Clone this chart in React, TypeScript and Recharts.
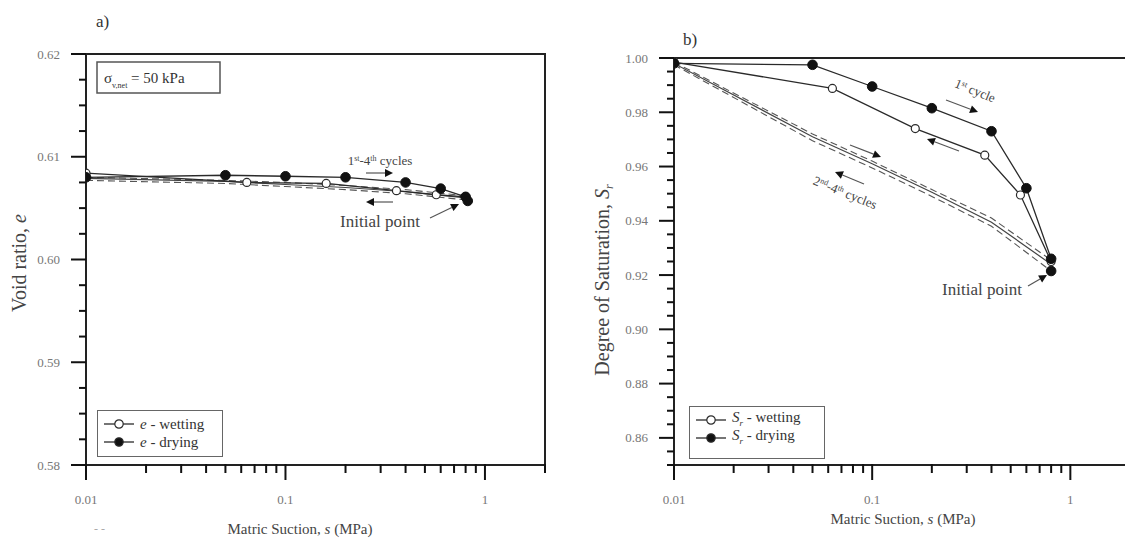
import React from "react";
import { LineChart, Line, XAxis, YAxis, ReferenceArea, Legend } from "recharts";

const FONT = "'Liberation Serif', 'Times New Roman', serif";
const INK = "#2a2a2a";
const TICK_INK = "#777";

// matric suction axis (log), shared by both panels
const sTickLabels = ["0.01", "0.1", "1"];
const sTicks = [
  0.01, 0.02, 0.03, 0.04, 0.05, 0.06, 0.07, 0.08, 0.09,
  0.1, 0.2, 0.3, 0.4, 0.5, 0.6, 0.7, 0.8, 0.9, 1, 2,
];

// panel a: void ratio
const eTickLabels = ["0.58", "0.59", "0.60", "0.61", "0.62"];
const eTicks = Array.from({ length: 17 }, (_, i) => +(0.58 + i * 0.0025).toFixed(4));

const eWetS = [0.8, 0.57, 0.36, 0.16, 0.064, 0.01];
const eWet = [0.6061, 0.6063, 0.6067, 0.6074, 0.6075, 0.6084];
const eDryS = [0.01, 0.05, 0.1, 0.2, 0.4, 0.6, 0.8];
const eDry = [0.608, 0.6082, 0.6081, 0.608, 0.6075, 0.6069, 0.6061];
const eInitS = [0.82];
const eInit = [0.6057];
const eCycS = [0.01, 0.05, 0.1, 0.2, 0.4, 0.8];
const eCyc2 = [0.6079, 0.6076, 0.6073, 0.607, 0.6066, 0.606];
const eCyc3 = [0.6077, 0.6074, 0.6071, 0.6068, 0.6064, 0.6058];
const eCyc4 = [0.608, 0.6077, 0.6075, 0.6072, 0.6068, 0.6062];

// panel b: degree of saturation
const srTickLabels = ["0.86", "0.88", "0.90", "0.92", "0.94", "0.96", "0.98", "1.00"];
const srTicks = Array.from({ length: 31 }, (_, i) => +(0.85 + i * 0.005).toFixed(4));

const srWetS = [0.8, 0.56, 0.37, 0.165, 0.063, 0.01];
const srWet = [0.925, 0.9495, 0.9642, 0.974, 0.9888, 0.9985];
const srDryS = [0.01, 0.05, 0.1, 0.2, 0.4, 0.6, 0.8];
const srDry = [0.998, 0.9975, 0.9895, 0.9815, 0.973, 0.952, 0.926];
const srInitS = [0.8];
const srInit = [0.9215];
const srCycS = [0.01, 0.05, 0.1, 0.2, 0.4, 0.8];
const srCyc2 = [0.998, 0.971, 0.961, 0.9505, 0.9395, 0.924];
const srCyc3 = [0.9975, 0.9695, 0.9595, 0.949, 0.938, 0.9215];
const srCyc4 = [0.9985, 0.972, 0.962, 0.9515, 0.941, 0.9255];

const zip = (xs: number[], ys: number[], key: string) =>
  xs.map((s, i) => ({ s, [key]: ys[i] }));

function findLabel(labels: string[], v: number) {
  return labels.find((l) => Math.abs(parseFloat(l) - v) < 1e-6);
}

const makeYTick = (labels: string[]) => (props: any) => {
  const x = Number(props.x);
  const y = Number(props.y);
  const lab = findLabel(labels, props.payload.value);
  const len = lab ? 15 : 7;
  return (
    <g>
      <path d={`M${x - len},${y}H${x}`} stroke="#111" strokeWidth={2} fill="none" />
      {lab && (
        <text x={x - 26} y={y} dy={4.5} textAnchor="end" fontSize={13} fill={TICK_INK} fontFamily={FONT}>
          {lab}
        </text>
      )}
    </g>
  );
};

const XTick = (props: any) => {
  const x = Number(props.x);
  const y = Number(props.y);
  const lab = findLabel(sTickLabels, props.payload.value);
  const len = lab ? 15 : 8;
  return (
    <g>
      <path d={`M${x},${y - 1}V${y + len}`} stroke="#111" strokeWidth={2} fill="none" />
      {lab && (
        <text x={x} y={y + 39} textAnchor="middle" fontSize={13} fill={TICK_INK} fontFamily={FONT}>
          {lab}
        </text>
      )}
    </g>
  );
};

const wetDot = { r: 4, fill: "#fff", stroke: INK, strokeWidth: 1.2 };
const dryDot = { r: 4.8, fill: "#111", stroke: "#111", strokeWidth: 1 };

function LegendBox({ sym, w, h }: { sym: React.ReactNode; w: number; h: number }) {
  const row = (filled: boolean, word: string) => (
    <div style={{ display: "flex", alignItems: "center", height: 18 }}>
      <svg width={30} height={12} style={{ marginRight: 6 }}>
        <line x1={0} x2={30} y1={6} y2={6} stroke={INK} strokeWidth={1.3} />
        <circle cx={15} cy={6} r={4.2} fill={filled ? "#111" : "#fff"} stroke={INK} strokeWidth={1.2} />
      </svg>
      <span>
        {sym} - {word}
      </span>
    </div>
  );
  return (
    <div
      style={{
        width: w,
        height: h,
        boxSizing: "border-box",
        border: "1.5px solid #666",
        background: "#fff",
        padding: "4px 6px",
        fontFamily: FONT,
        fontSize: 15,
        color: "#333",
        lineHeight: "18px",
      }}
    >
      {row(false, "wetting")}
      {row(true, "drying")}
    </div>
  );
}

function Arrow({ x1, y1, x2, y2 }: { x1: number; y1: number; x2: number; y2: number }) {
  const a = Math.atan2(y2 - y1, x2 - x1);
  const L = 8;
  const W = 4;
  const bx = x2 - L * Math.cos(a);
  const by = y2 - L * Math.sin(a);
  const px = -Math.sin(a) * W;
  const py = Math.cos(a) * W;
  return (
    <g>
      <line x1={x1} y1={y1} x2={bx} y2={by} stroke="#555" strokeWidth={1.2} />
      <polygon points={`${x2},${y2} ${bx + px},${by + py} ${bx - px},${by - py}`} fill="#111" />
    </g>
  );
}

const sup = (t: string) => (
  <tspan baselineShift="super" fontSize={8}>
    {t}
  </tspan>
);

const axisLineStyle = { stroke: "#222", strokeWidth: 2 };

export default function App() {
  return (
    <div
      style={{
        position: "absolute",
        left: 0,
        top: 0,
        width: 1125,
        height: 542,
        overflow: "hidden",
        background: "#fff",
      }}
    >
      {/* panel a */}
      <div style={{ position: "absolute", left: 0, top: 0 }}>
        <LineChart width={560} height={542} margin={{ top: 54, right: 15, bottom: 27, left: 26 }}>
          <XAxis
            dataKey="s"
            type="number"
            scale="log"
            domain={[0.01, 2]}
            allowDataOverflow
            ticks={sTicks}
            interval={0}
            tickLine={false}
            tickSize={0}
            tickMargin={0}
            tick={XTick}
            height={50}
            axisLine={axisLineStyle}
            label={() => (
              <text x={300} y={534} textAnchor="middle" fontSize={15} fill="#444" fontFamily={FONT}>
                Matric Suction, <tspan fontStyle="italic">s</tspan> (MPa)
              </text>
            )}
          />
          <YAxis
            type="number"
            domain={[0.58, 0.62]}
            ticks={eTicks}
            interval={0}
            tickLine={false}
            tickSize={0}
            tickMargin={0}
            tick={makeYTick(eTickLabels)}
            width={60}
            axisLine={axisLineStyle}
            label={() => (
              <text
                x={19}
                y={263}
                transform="rotate(-90 19 263)"
                textAnchor="middle"
                dominantBaseline="central"
                fontSize={20}
                fill="#444"
                fontFamily={FONT}
              >
                Void ratio, <tspan fontStyle="italic">e</tspan>
              </text>
            )}
          />
          <ReferenceArea x1={0.01} x2={2} y1={0.58} y2={0.62} fill="none" stroke="#222" strokeWidth={2} />
          <Line data={zip(eCycS, eCyc3, "v")} dataKey="v" stroke="#555" strokeWidth={1.1} strokeDasharray="7 4" dot={false} isAnimationActive={false} />
          <Line data={zip(eCycS, eCyc4, "v")} dataKey="v" stroke="#555" strokeWidth={1.1} strokeDasharray="7 4" dot={false} isAnimationActive={false} />
          <Line data={zip(eCycS, eCyc2, "v")} dataKey="v" stroke="#444" strokeWidth={1.1} dot={false} isAnimationActive={false} />
          <Line data={zip(eWetS, eWet, "v")} dataKey="v" stroke={INK} strokeWidth={1.3} dot={wetDot} isAnimationActive={false} />
          <Line data={zip(eDryS, eDry, "v")} dataKey="v" stroke={INK} strokeWidth={1.3} dot={dryDot} isAnimationActive={false} />
          <Line data={zip(eInitS, eInit, "v")} dataKey="v" stroke="none" dot={dryDot} isAnimationActive={false} />
          <Legend
            layout="vertical"
            align="center"
            verticalAlign="middle"
            wrapperStyle={{ left: 97, top: 410, width: "auto" }}
            content={() => <LegendBox sym={<i>e</i>} w={126} h={47} />}
          />
        </LineChart>
      </div>

      {/* panel b */}
      <div style={{ position: "absolute", left: 560, top: 0 }}>
        <LineChart width={570} height={542} margin={{ top: 58, right: 0, bottom: 27, left: 14 }}>
          <XAxis
            dataKey="s"
            type="number"
            scale="log"
            domain={[0.01, 2]}
            allowDataOverflow
            ticks={sTicks}
            interval={0}
            tickLine={false}
            tickSize={0}
            tickMargin={0}
            tick={XTick}
            height={50}
            axisLine={axisLineStyle}
            label={() => (
              <text x={343} y={524} textAnchor="middle" fontSize={15} fill="#444" fontFamily={FONT}>
                Matric Suction, <tspan fontStyle="italic">s</tspan> (MPa)
              </text>
            )}
          />
          <YAxis
            type="number"
            domain={[0.85, 1.0]}
            ticks={srTicks}
            interval={0}
            tickLine={false}
            tickSize={0}
            tickMargin={0}
            tick={makeYTick(srTickLabels)}
            width={100}
            axisLine={axisLineStyle}
            label={() => (
              <text
                x={42}
                y={280}
                transform="rotate(-90 42 280)"
                textAnchor="middle"
                dominantBaseline="central"
                fontSize={20}
                fill="#444"
                fontFamily={FONT}
              >
                Degree of Saturation, <tspan fontStyle="italic">S</tspan>
                <tspan fontStyle="italic" baselineShift="sub" fontSize={12}>r</tspan>
              </text>
            )}
          />
          <ReferenceArea x1={0.01} x2={2} y1={0.85} y2={1.0} fill="none" stroke="#222" strokeWidth={2} />
          <Line data={zip(srCycS, srCyc3, "v")} dataKey="v" stroke="#555" strokeWidth={1.1} strokeDasharray="7 4" dot={false} isAnimationActive={false} />
          <Line data={zip(srCycS, srCyc4, "v")} dataKey="v" stroke="#555" strokeWidth={1.1} strokeDasharray="7 4" dot={false} isAnimationActive={false} />
          <Line data={zip(srCycS, srCyc2, "v")} dataKey="v" stroke="#444" strokeWidth={1.2} dot={false} isAnimationActive={false} />
          <Line data={zip(srWetS, srWet, "v")} dataKey="v" stroke={INK} strokeWidth={1.3} dot={wetDot} isAnimationActive={false} />
          <Line data={zip(srDryS, srDry, "v")} dataKey="v" stroke={INK} strokeWidth={1.3} dot={dryDot} isAnimationActive={false} />
          <Line data={zip(srInitS, srInit, "v")} dataKey="v" stroke="none" dot={dryDot} isAnimationActive={false} />
          <Legend
            layout="vertical"
            align="center"
            verticalAlign="middle"
            wrapperStyle={{ left: 129, top: 406, width: "auto" }}
            content={() => (
              <LegendBox
                sym={
                  <span>
                    <i>S</i>
                    <sub style={{ fontSize: 9, fontStyle: "italic" }}>r</sub>
                  </span>
                }
                w={136}
                h={53}
              />
            )}
          />
        </LineChart>
      </div>

      {/* annotations */}
      <svg
        width={1125}
        height={542}
        style={{ position: "absolute", left: 0, top: 0, pointerEvents: "none" }}
        fontFamily={FONT}
      >
        <text x={96} y={27} fontSize={17} fill="#333">a)</text>
        <text x={683} y={45} fontSize={17} fill="#333">b)</text>

        <rect x={97} y={62} width={123} height={31} fill="#fff" stroke="#555" strokeWidth={1.5} />
        <text x={104} y={83} fontSize={15} fill="#333">
          σ<tspan baselineShift="sub" fontSize={8}>v,net</tspan>
          <tspan> = 50 kPa</tspan>
        </text>

        <text x={380} y={165} textAnchor="middle" fontSize={13} fill="#444">
          1{sup("st")}-4{sup("th")} cycles
        </text>
        <Arrow x1={366} y1={173} x2={393} y2={173} />
        <Arrow x1={393} y1={202} x2={366} y2={202} />
        <text x={380} y={227} textAnchor="middle" fontSize={17} fill="#444">Initial point</text>
        <Arrow x1={430} y1={218} x2={459} y2={204} />

        <text x={975} y={95} textAnchor="middle" fontSize={13} fill="#444" transform="rotate(22 975 91)">
          1{sup("st")} cycle
        </text>
        <Arrow x1={946} y1={100} x2={978} y2={112} />
        <Arrow x1={959} y1={151} x2={927} y2={139} />
        <text x={845} y={197} textAnchor="middle" fontSize={13} fill="#444" transform="rotate(22 845 193)">
          2{sup("nd")}-4{sup("th")} cycles
        </text>
        <Arrow x1={850} y1={145} x2={881} y2={157} />
        <Arrow x1={864} y1={184} x2={835} y2={172} />
        <text x={982} y={295} textAnchor="middle" fontSize={17} fill="#444">Initial point</text>
        <Arrow x1={1028} y1={286} x2={1047} y2={275} />

        <text x={94} y={533} fontSize={12} fill="#aaa">- -</text>
      </svg>
    </div>
  );
}
